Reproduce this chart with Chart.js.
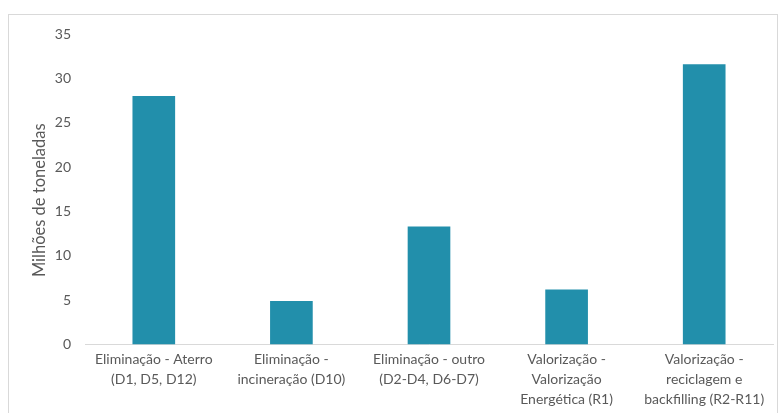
<!DOCTYPE html>
<html>
<head>
<meta charset="utf-8">
<script src="https://cdn.jsdelivr.net/npm/chart.js@4"></script>
<style>
  html, body { margin: 0; padding: 0; background: #fff; }
  #wrap { position: relative; width: 781px; height: 413px; overflow: hidden; }
  #frame { position: absolute; left: 8px; top: 14px; width: 770px; height: 420px; border: 1px solid #d9d9d9; box-sizing: border-box; }
  canvas { position: absolute; left: 0; top: 0; }
</style>
</head>
<body>
<div id="wrap">
  <div id="frame"></div>
  <canvas id="barchart" width="781" height="413"></canvas>
</div>
<script>
const categories = [
  ["Eliminação - Aterro", "(D1, D5, D12)"],
  ["Eliminação -", "incineração (D10)"],
  ["Eliminação - outro", "(D2-D4, D6-D7)"],
  ["Valorização -", "Valorização", "Energética (R1)"],
  ["Valorização -", "reciclagem e", "backfilling (R2-R11)"],
];
const tonnes = [28, 4.9, 13.3, 6.2, 31.6];
const yTicks = [0, 5, 10, 15, 20, 25, 30, 35];
const yTitle = "Milhões de toneladas";

const textColor = "#595959";
const fontFamily = "Lato, 'Open Sans', sans-serif";

// rotated y-axis title, placed a little below the plot's vertical centre
const yTitlePlugin = {
  id: "yTitle",
  afterDraw(chart) {
    const { ctx, chartArea } = chart;
    ctx.save();
    ctx.translate(40, (chartArea.top + chartArea.bottom) / 2 + 11);
    ctx.rotate(-Math.PI / 2);
    ctx.fillStyle = textColor;
    ctx.font = "16.5px " + fontFamily;
    ctx.textAlign = "center";
    ctx.textBaseline = "middle";
    ctx.fillText(yTitle, 0, 0);
    ctx.restore();
  },
};

const bctx = document.getElementById("barchart");

new Chart(bctx, {
  type: "bar",
  data: {
    labels: categories,
    datasets: [
      {
        label: yTitle,
        data: tonnes,
        backgroundColor: "#228fab",
        borderWidth: 0,
        categoryPercentage: 1,
        barPercentage: 0.31,
      },
    ],
  },
  plugins: [yTitlePlugin],
  options: {
    responsive: false,
    animation: false,
    layout: { padding: { top: 34, right: 8, left: 48, bottom: 6.5 } },
    plugins: {
      legend: { display: false },
      tooltip: { enabled: false },
    },
    scales: {
      x: {
        grid: { display: false },
        border: { color: "#d9d9d9", width: 1 },
        ticks: {
          color: textColor,
          font: { family: fontFamily, size: 14, lineHeight: "20px" },
          maxRotation: 0,
          autoSkip: false,
          padding: -3,
        },
      },
      y: {
        min: 0,
        max: 35,
        afterBuildTicks: (scale) => {
          scale.ticks = yTicks.map((v) => ({ value: v }));
        },
        afterFit: (scale) => {
          scale.width = 37;
        },
        grid: { display: false },
        border: { display: false },
        ticks: {
          color: textColor,
          font: { family: fontFamily, size: 14 },
          padding: 6,
        },
      },
    },
  },
});
</script>
</body>
</html>
